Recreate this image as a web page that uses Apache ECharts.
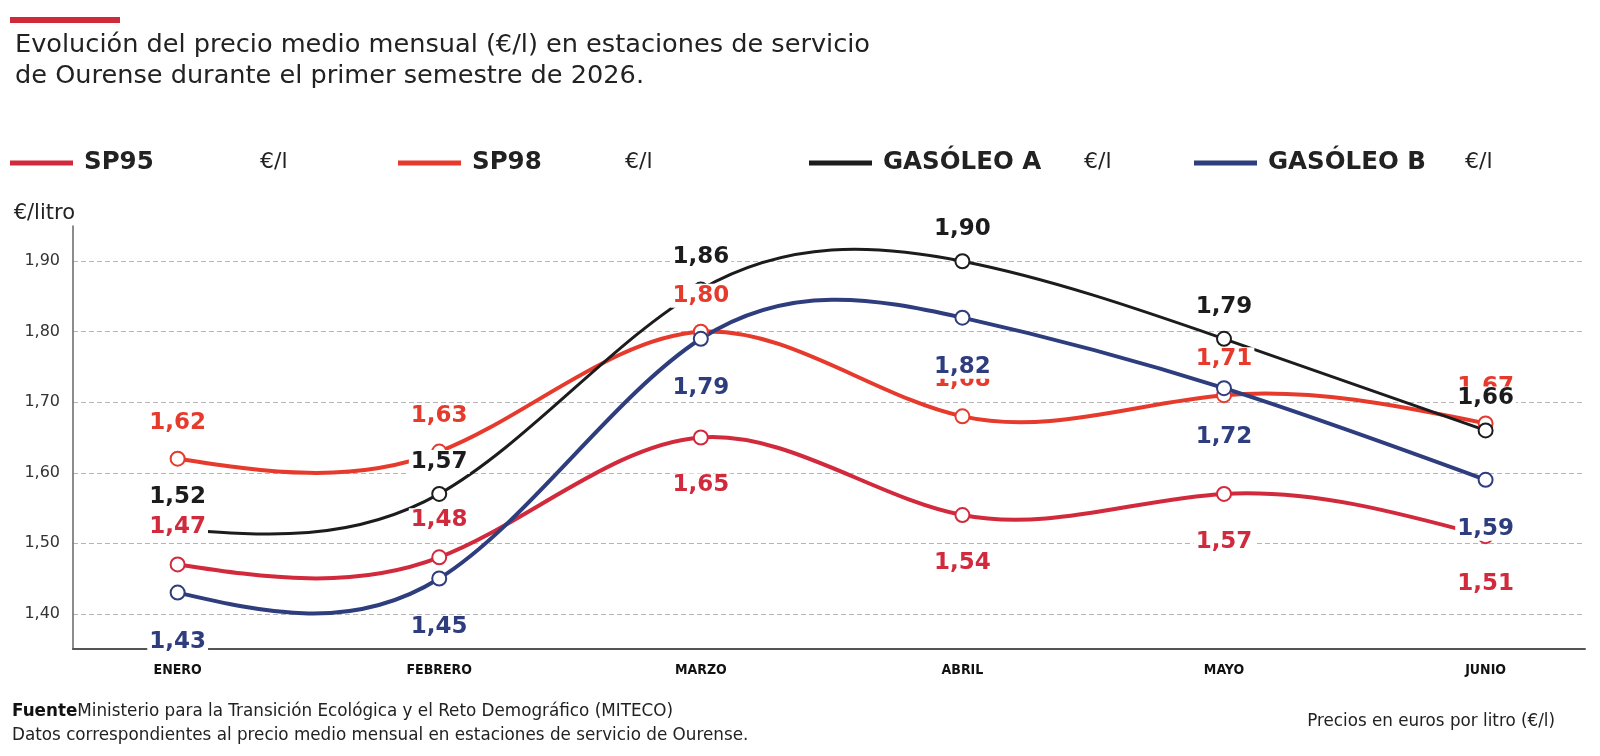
<!DOCTYPE html>
<html>
<head>
<meta charset="utf-8">
<title>Precio medio mensual carburantes Ourense</title>
<script src="https://cdn.jsdelivr.net/npm/echarts@6/dist/echarts.min.js"></script>
<style>
    html, body { margin: 0; padding: 0; background: #fff; }
    #chart { width: 1600px; height: 756px; }
</style>
</head>
<body>
<div id="chart"></div>
<script>
// datos
const months = ['ENERO', 'FEBRERO', 'MARZO', 'ABRIL', 'MAYO', 'JUNIO'];
const sp95 = [1.47, 1.48, 1.65, 1.54, 1.57, 1.51];
const sp98 = [1.62, 1.63, 1.80, 1.68, 1.71, 1.67];
const gasoleoA = [1.52, 1.57, 1.86, 1.90, 1.79, 1.66];
const gasoleoB = [1.43, 1.45, 1.79, 1.82, 1.72, 1.59];
const yTicks = [1.4, 1.5, 1.6, 1.7, 1.8, 1.9];

const SANS = '"DejaVu Sans", sans-serif';
const COND = '"DejaVu Sans Condensed", "DejaVu Sans", sans-serif';

const fmt = v => v.toFixed(2).replace('.', ',');

// curva spline natural entre los puntos (en pixeles, via api.coord)
function splineRender(values, color, width) {
    return function (params, api) {
        if (params.dataIndex !== 0) return null;
        const pts = values.map((v, j) => api.coord([j, v]));
        const n = pts.length;
        const h = pts[1][0] - pts[0][0];
        // segundas derivadas, extremos naturales
        const M = new Array(n).fill(0);
        const c = new Array(n).fill(0);
        const d = new Array(n).fill(0);
        for (let i = 1; i < n - 1; i++) {
            const rhs = 6 / (h * h) * (pts[i + 1][1] - 2 * pts[i][1] + pts[i - 1][1]);
            const den = 4 - (i > 1 ? c[i - 1] : 0);
            c[i] = 1 / den;
            d[i] = (rhs - (i > 1 ? d[i - 1] : 0)) / den;
        }
        for (let i = n - 2; i >= 1; i--) {
            M[i] = d[i] - c[i] * M[i + 1];
        }
        const children = [];
        for (let i = 0; i < n - 1; i++) {
            const p0 = pts[i], p1 = pts[i + 1];
            const s = (p1[1] - p0[1]) / h;
            const t0 = s - h / 6 * (2 * M[i] + M[i + 1]);
            const t1 = s + h / 6 * (M[i] + 2 * M[i + 1]);
            children.push({
                type: 'bezierCurve',
                shape: {
                    x1: p0[0], y1: p0[1], x2: p1[0], y2: p1[1],
                    cpx1: p0[0] + h / 3, cpy1: p0[1] + h / 3 * t0,
                    cpx2: p1[0] - h / 3, cpy2: p1[1] - h / 3 * t1
                },
                style: { stroke: color, lineWidth: width, fill: null, lineCap: 'round' }
            });
        }
        return { type: 'group', children: children };
    };
}

function labelStyle(color, position, distance) {
    return {
        show: true,
        position: position,
        distance: distance,
        formatter: p => fmt(p.value[1]),
        color: color,
        fontFamily: SANS,
        fontWeight: 'bold',
        fontSize: 23,
        lineHeight: 24,
        backgroundColor: '#fff',
        padding: [0, 2]
    };
}

// serie de puntos + etiquetas (la linea la dibuja la serie custom)
function pointSeries(name, values, color, position, distance) {
    return {
        name: name,
        type: 'line',
        z: 3,
        symbol: 'emptyCircle',
        symbolSize: 14,
        showSymbol: true,
        lineStyle: { color: color, width: 0, opacity: 0 },
        itemStyle: { color: color, borderWidth: 3 },
        label: labelStyle(color, position, distance),
        labelLayout: { hideOverlap: false },
        data: values.map((v, i) => [i, v])
    };
}

function curveSeries(name, values, color, width) {
    return {
        name: name,
        type: 'custom',
        z: 2,
        silent: true,
        clip: false,
        renderItem: splineRender(values, color, width),
        encode: { x: 0, y: 1 },
        data: values.map((v, i) => [i, v])
    };
}

const fuels = [
    { name: 'SP95', values: sp95, color: '#d22a3d', width: 4, pos: 'bottom', dist: 28 },
    { name: 'SP98', values: sp98, color: '#e63a2c', width: 4, pos: 'top', dist: 16 },
    { name: 'GASÓLEO A', values: gasoleoA, color: '#1c1c1e', width: 3, pos: 'top', dist: 12 },
    { name: 'GASÓLEO B', values: gasoleoB, color: '#2e3d7d', width: 4, pos: 'bottom', dist: 29 }
];

const curves = fuels.map(f => curveSeries(f.name + '_curva', f.values, f.color, f.width));
const points = fuels.map(f => pointSeries(f.name, f.values, f.color, f.pos, f.dist));
// SP95: enero y febrero llevan la etiqueta encima
points[0].data = sp95.map((v, i) => i < 2
    ? { value: [i, v], label: { position: 'top', distance: 17 } }
    : { value: [i, v] });

// leyendas sueltas, una por serie
const legendLeft = [10, 398, 809, 1194];
const legend = fuels.map((f, i) => ({
    data: [f.name],
    left: legendLeft[i],
    top: 148,
    padding: 0,
    icon: 'rect',
    itemWidth: 63,
    itemHeight: 5,
    selectedMode: false,
    textStyle: {
        fontFamily: SANS,
        fontWeight: 'bold',
        fontSize: 24.5,
        lineHeight: 30,
        color: '#222',
        padding: [0, 0, 0, 6]
    }
}));

const unitLeft = [260, 625, 1084, 1465];

const option = {
    animation: false,
    backgroundColor: '#fff',
    title: {
        text: 'Evolución del precio medio mensual (€/l) en estaciones de servicio\nde Ourense durante el primer semestre de 2026.',
        left: 10,
        top: 25,
        textStyle: {
            fontFamily: SANS,
            fontWeight: 'normal',
            fontSize: 25.6,
            lineHeight: 31,
            color: '#222'
        }
    },
    legend: legend,
    grid: {
        left: 73,
        right: 15,
        top: 226,
        bottom: 107
    },
    xAxis: {
        type: 'value',
        min: -0.4,
        max: 5.38,
        splitLine: { show: false },
        axisTick: { show: false },
        axisLine: { show: true, onZero: false, lineStyle: { color: '#555', width: 2 } },
        axisLabel: {
            customValues: [0, 1, 2, 3, 4, 5],
            formatter: v => months[v],
            margin: 14,
            fontFamily: COND,
            fontWeight: 'bold',
            fontSize: 14,
            color: '#111'
        }
    },
    yAxis: {
        type: 'value',
        min: 1.35,
        max: 1.95,
        name: '€/litro',
        nameLocation: 'end',
        nameGap: 12,
        nameTextStyle: {
            fontFamily: SANS,
            fontSize: 21,
            color: '#222',
            align: 'right',
            verticalAlign: 'middle',
            padding: [0, -2, 0, 0]
        },
        axisLine: { show: true, onZero: false, lineStyle: { color: '#666', width: 1.5 } },
        axisTick: { show: false, customValues: yTicks },
        splitLine: {
            show: true,
            lineStyle: { color: '#b5b5b5', type: [5, 3], width: 1 }
        },
        axisLabel: {
            customValues: yTicks,
            formatter: v => fmt(v),
            margin: 13,
            fontFamily: SANS,
            fontSize: 16,
            color: '#333'
        }
    },
    graphic: [
        { type: 'rect', left: 10, top: 17, shape: { width: 110, height: 6 }, style: { fill: '#cf2a3a' } }
    ].concat(unitLeft.map(x => ({
        type: 'text',
        left: x,
        top: 151,
        style: { text: '€/l', fontFamily: SANS, fontSize: 22, fill: '#222' }
    }))).concat([
        {
            type: 'text',
            left: 12,
            top: 700,
            style: {
                text: '{b|Fuente}Ministerio para la Transición Ecológica y el Reto Demográfico (MITECO)\nDatos correspondientes al precio medio mensual en estaciones de servicio de Ourense.',
                fontFamily: SANS,
                fontSize: 16.8,
                lineHeight: 24,
                fill: '#222',
                rich: {
                    b: { fontFamily: SANS, fontWeight: 'bold', fontSize: 16.8, lineHeight: 24, fill: '#111' }
                }
            }
        },
        {
            type: 'text',
            right: 45,
            top: 713,
            style: { text: 'Precios en euros por litro (€/l)', fontFamily: SANS, fontSize: 16.75, fill: '#222' }
        }
    ]),
    series: curves.concat(points)
};

const myChart = echarts.init(document.getElementById('chart'));
myChart.setOption(option);
</script>
</body>
</html>
